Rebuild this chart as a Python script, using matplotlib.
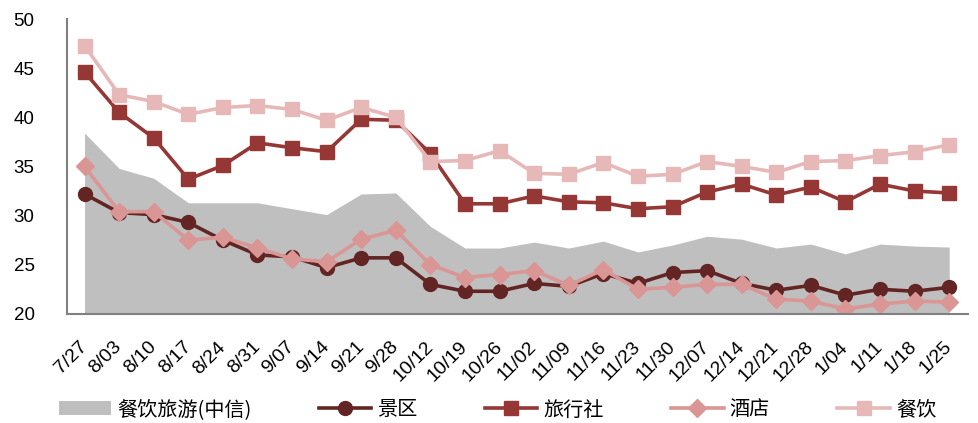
import matplotlib.pyplot as plt

plt.rcParams['font.family'] = ['Liberation Sans', 'Noto Sans CJK SC', 'DejaVu Sans']

# Weekly dates
dates = ['7/27', '8/03', '8/10', '8/17', '8/24', '8/31', '9/07', '9/14', '9/21', '9/28',
         '10/12', '10/19', '10/26', '11/02', '11/09', '11/16', '11/23', '11/30',
         '12/07', '12/14', '12/21', '12/28', '1/04', '1/11', '1/18', '1/25']

# 餐饮旅游(中信) index, drawn as the grey area
citic = [38.4, 34.8, 33.8, 31.3, 31.3, 31.3, 30.7, 30.1, 32.2, 32.3,
         28.9, 26.7, 26.7, 27.3, 26.7, 27.4, 26.3, 27.0,
         27.9, 27.6, 26.7, 27.1, 26.1, 27.1, 26.9, 26.8]

scenic = [32.2, 30.3, 30.1, 29.3, 27.5, 26.0, 25.8, 24.7, 25.7, 25.7,
          23.0, 22.3, 22.3, 23.1, 22.8, 24.1, 23.1, 24.2,
          24.4, 23.1, 22.4, 22.9, 21.9, 22.5, 22.3, 22.7]

travel = [44.6, 40.5, 37.9, 33.7, 35.1, 37.4, 36.9, 36.5, 39.8, 39.7,
          36.3, 31.2, 31.2, 32.0, 31.4, 31.3, 30.7, 30.9,
          32.4, 33.2, 32.1, 32.9, 31.4, 33.2, 32.5, 32.3]

hotel = [35.0, 30.4, 30.4, 27.5, 27.8, 26.7, 25.6, 25.3, 27.6, 28.5,
         25.0, 23.7, 24.0, 24.4, 22.9, 24.5, 22.5, 22.7,
         23.0, 23.0, 21.5, 21.3, 20.5, 21.0, 21.3, 21.2]

catering = [47.3, 42.3, 41.6, 40.3, 41.0, 41.2, 40.8, 39.7, 41.0, 40.0,
            35.5, 35.6, 36.6, 34.3, 34.2, 35.4, 34.0, 34.2,
            35.5, 35.0, 34.4, 35.5, 35.6, 36.1, 36.5, 37.2]

x = list(range(len(dates)))

fig = plt.figure(figsize=(9.79, 4.23), dpi=100)
ax = fig.add_axes([0.068, 0.258, 0.921, 0.697])

ax.fill_between(x, 20, citic, color='#BFBFBF', linewidth=0, label='餐饮旅游(中信)')
ax.plot(x, scenic, color='#632523', lw=2.6, marker='o', ms=10, label='景区')
ax.plot(x, travel, color='#953735', lw=2.6, marker='s', ms=10.5, label='旅行社')
ax.plot(x, hotel, color='#D99694', lw=2.6, marker='D', ms=9.5, label='酒店')
ax.plot(x, catering, color='#E6B9B8', lw=2.6, marker='s', ms=10.5, label='餐饮')

ax.set_xlim(-0.52, 25.55)
ax.set_ylim(20, 50)
ax.set_yticks([20, 25, 30, 35, 40, 45, 50])
ax.set_xticks(x)
ax.set_xticklabels(dates, rotation=45, ha='right', va='center', rotation_mode='anchor')

ax.tick_params(axis='y', length=0, pad=23, labelsize=13.5)
ax.tick_params(axis='x', length=0, pad=22, labelsize=14)

for side in ['top', 'right']:
    ax.spines[side].set_visible(False)
for side in ['left', 'bottom']:
    ax.spines[side].set_color('#808080')
    ax.spines[side].set_linewidth(1.5)

fig.legend(loc='center', bbox_to_anchor=(0.508, 0.031), ncol=5, frameon=False,
           numpoints=1, handlelength=2.6, handletextpad=0.3, columnspacing=3.35,
           prop={'family': ['Noto Sans CJK SC', 'DejaVu Sans'], 'size': 14.5})

fig.savefig('out.png', dpi=100)
